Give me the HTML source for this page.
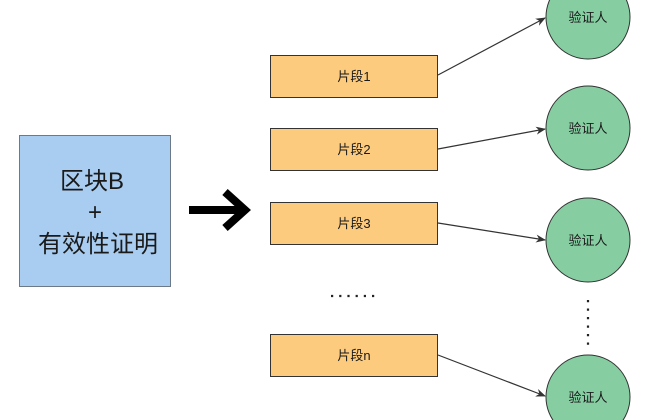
<!DOCTYPE html>
<html><head><meta charset="utf-8"><style>
html,body{margin:0;padding:0;background:#fff;width:656px;height:420px;overflow:hidden}
svg{display:block}
text{font-family:"Liberation Sans","Noto Sans CJK SC",sans-serif;fill:#1a1a1a}
</style></head><body>
<svg width="656" height="420" viewBox="0 0 656 420" xmlns="http://www.w3.org/2000/svg">
<defs><marker id="a" markerWidth="10" markerHeight="8" refX="9" refY="4" orient="auto" markerUnits="userSpaceOnUse"><path d="M0,0 L10,4 L0,8 L3,4 Z" fill="#333"/></marker></defs>
<rect x="19.5" y="135.5" width="151" height="151" fill="#a9cdf0" stroke="#6c7a88"/>
<text x="92" y="189" font-size="24" text-anchor="middle">区块B</text>
<text x="95" y="220" font-size="24" text-anchor="middle">+</text>
<text x="98" y="252" font-size="24" text-anchor="middle">有效性证明</text>
<path d="M189,210 H243" stroke="#000" stroke-width="8"/>
<path d="M225,192 L245,210 L225,228" fill="none" stroke="#000" stroke-width="8"/>
<g fill="#fdcb7e" stroke="#333">
<rect x="270.5" y="55.5" width="167" height="42"/>
<rect x="270.5" y="128.5" width="167" height="42"/>
<rect x="270.5" y="202.5" width="167" height="42"/>
<rect x="270.5" y="334.5" width="167" height="42"/>
</g>
<g font-size="13" text-anchor="middle">
<text x="354" y="81">片段1</text>
<text x="354" y="154">片段2</text>
<text x="354" y="228">片段3</text>
<text x="354" y="360">片段n</text>
</g>
<g stroke="#333">
<circle cx="588" cy="17" r="42" fill="#86cea2"/>
<circle cx="588" cy="128" r="42" fill="#86cea2"/>
<circle cx="588" cy="240" r="42" fill="#86cea2"/>
<circle cx="588" cy="397" r="42" fill="#86cea2"/>
</g>
<g font-size="13" text-anchor="middle">
<text x="588" y="22">验证人</text>
<text x="588" y="133">验证人</text>
<text x="588" y="245">验证人</text>
<text x="588" y="402">验证人</text>
</g>
<g stroke="#333" stroke-width="1.2" marker-end="url(#a)">
<line x1="438" y1="75" x2="545" y2="18"/>
<line x1="438" y1="149" x2="545" y2="129"/>
<line x1="438" y1="223" x2="545" y2="240"/>
<line x1="438" y1="355" x2="545" y2="396"/>
</g>
<line x1="331" y1="296" x2="378" y2="296" stroke="#222" stroke-width="2.2" stroke-dasharray="2.2,6"/>
<line x1="588" y1="300" x2="588" y2="345" stroke="#222" stroke-width="2.2" stroke-dasharray="2.2,6.3"/>
</svg>
</body></html>
